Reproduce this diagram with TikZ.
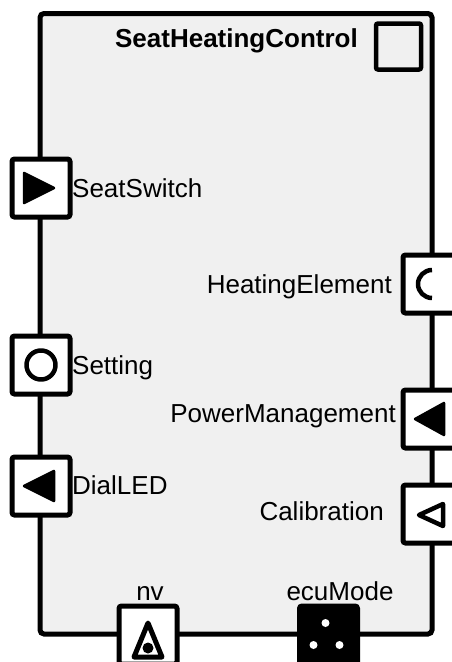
\documentclass[tikz,border=0pt]{standalone}
\usepackage{fontspec}
\setmainfont{Liberation Sans}
\definecolor{bg}{HTML}{F0F0F0}
\begin{document}
\begin{tikzpicture}[x=1pt,y=-1pt,
  port/.style={draw, line width=5pt, rounded corners=2.5pt, fill=white, minimum size=58pt, inner sep=0pt, outer sep=0pt},
  lbl/.style={font=\fontsize{26}{30}\selectfont, inner sep=0pt},
  sym/.style={line width=4.5pt, line join=round, line cap=round}]
\useasboundingbox (0,0) rectangle (452,662);
\clip (0,0) rectangle (452,662);
\node[draw, line width=5pt, rounded corners=4pt, fill=bg, minimum width=392pt, minimum height=620.5pt, inner sep=0pt, outer sep=0pt] (block) at (236,323.75) {};
\node[lbl, font=\fontsize{26}{30}\selectfont\bfseries, anchor=base east] (title) at (358,47) {SeatHeatingControl};
\node[draw, line width=4.5pt, rounded corners=2pt, fill=bg, minimum width=45pt, minimum height=46pt, inner sep=0pt] (icon) at (398.5,46.5) {};
% left ports
\node[port] (seatswitch) at (41,188) {};
\begin{scope}[shift={(seatswitch.center)}]
  \filldraw[sym, line width=2.5pt] (-17,-15) -- (13,0) -- (-17,15) -- cycle;
\end{scope}
\node[lbl, anchor=base west] (seatswitchlbl) at (72,197) {SeatSwitch};
\node[port] (setting) at (41,365) {};
\draw[sym] (setting.center) circle[radius=14.5];
\node[lbl, anchor=base west] (settinglbl) at (72,374) {Setting};
\node[port] (dialled) at (41,486) {};
\begin{scope}[shift={(dialled.center)}]
  \filldraw[sym, line width=2.5pt] (13,-15) -- (-17,0) -- (13,15) -- cycle;
\end{scope}
\node[lbl, anchor=base west] (dialledlbl) at (72,494) {DialLED};
% right ports
\node[port] (heating) at (432,284) {};
\begin{scope}[shift={(heating.center)}]
  \draw[sym, line cap=butt] (0,-14) arc[start angle=270, end angle=90, radius=14];
\end{scope}
\node[lbl, anchor=base east] (heatinglbl) at (392,293) {HeatingElement};
\node[port] (power) at (432,419) {};
\begin{scope}[shift={(power.center)}]
  \filldraw[sym, line width=2.5pt] (12,-16) -- (-17,0) -- (12,16) -- cycle;
\end{scope}
\node[lbl, anchor=base east] (powerlbl) at (396,422) {PowerManagement};
\node[port] (calib) at (432,514) {};
\begin{scope}[shift={(calib.center)}]
  \draw[sym] (11,-10) -- (-13,1) -- (11,12) -- cycle;
\end{scope}
\node[lbl, anchor=base east] (caliblbl) at (384,520) {Calibration};
% bottom ports
\node[port] (nv) at (148,635) {};
\begin{scope}[shift={(nv.center)}]
  \draw[sym, line width=5pt] (0,-12) -- (14,22) -- (-14,22) -- cycle;
  \fill (0,13) circle[radius=5.5];
\end{scope}
\node[lbl, anchor=base] (nvlbl) at (150,600) {nv};
\node[port, fill=black] (ecu) at (328.5,635) {};
\begin{scope}[shift={(ecu.center)}]
  \fill[white] (-3,-12) circle[radius=4];
  \fill[white] (-15,10) circle[radius=4];
  \fill[white] (11,10) circle[radius=4];
\end{scope}
\node[lbl, anchor=base] (eculbl) at (340,600) {ecuMode};
\end{tikzpicture}
\end{document}
